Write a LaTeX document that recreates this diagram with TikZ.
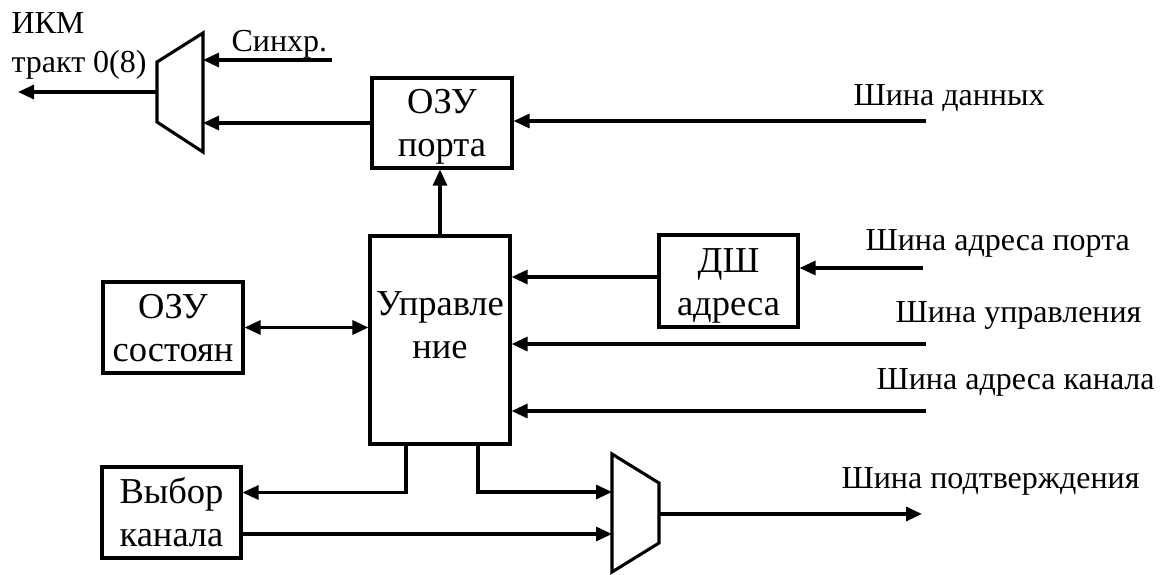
\documentclass[tikz,border=0pt]{standalone}
\usepackage{fontspec}
\setmainfont{Liberation Serif}
\usetikzlibrary{arrows.meta}
\newcommand\twoline[2]{\begin{tabular}[t]{@{}c@{}}#1\\#2\end{tabular}}
\begin{document}
\begin{tikzpicture}[x=1pt,y=-1pt,line width=3.1pt,
  blk/.style={draw,line width=3.1pt,inner sep=0pt,minimum width=140pt},
  btxt/.style={anchor=base,inner sep=0pt,font=\fontsize{36.5}{43}\selectfont},
  ltxt/.style={anchor=base west,inner sep=0pt,font=\fontsize{32}{39}\selectfont},
  arr/.style={-{Triangle[length=16pt,width=14pt]}},
  arrb/.style={{Triangle[length=16pt,width=14pt]}-{Triangle[length=16pt,width=14pt]}}]
\useasboundingbox (0,0) rectangle (1164,574);
% boxes
\node[blk,minimum height=90pt] (ozup) at (442,123) {};
\node[blk,minimum height=208pt] (ctl) at (440,340) {};
\node[blk,minimum height=91pt] (ozus) at (173,327.5) {};
\node[blk,minimum width=139pt,minimum height=92pt] (dsh) at (728.5,281) {};
\node[blk,minimum width=139pt,minimum height=91pt] (vyb) at (171.5,512.5) {};
% box texts
\node[btxt] (tozup) at (442,113) {\twoline{ОЗУ}{порта}};
\node[btxt] (tctl) at (440,315) {\twoline{Управле}{ние}};
\node[btxt] (tozus) at (173,318) {\twoline{ОЗУ}{состоян}};
\node[btxt] (tdsh) at (728.5,272) {\twoline{ДШ}{адреса}};
\node[btxt] (tvyb) at (171.5,503) {\twoline{Выбор}{канала}};
% multiplexers
\coordinate (m1a) at (157,62); \coordinate (m1b) at (203,33);
\coordinate (m1c) at (203,152); \coordinate (m1d) at (157,122);
\draw[line join=miter] (m1a) -- (m1b) -- (m1c) -- (m1d) -- cycle;
\coordinate (m2a) at (612,454); \coordinate (m2b) at (659,483);
\coordinate (m2c) at (659,543); \coordinate (m2d) at (612,572);
\draw[line join=miter] (m2a) -- (m2b) -- (m2c) -- (m2d) -- cycle;
% free ends
\coordinate (m1out) at (157,92); \coordinate (ikmend) at (18,92);
\coordinate (sync) at (332,60);
\coordinate (dbus) at (926,121);
\coordinate (pabus) at (923,268);
\coordinate (cbus) at (926,344);
\coordinate (cabus) at (926,411);
\coordinate (m2in1) at (612,492); \coordinate (m2in2) at (612,534);
\coordinate (m2out) at (659,514); \coordinate (ackend) at (922,514);
% connectors
\draw[arr] (m1out) -- (ikmend);
\draw[arr] (sync) -- (sync -| m1b);
\draw[arr] (ozup.west) -- (ozup.west -| m1b);
\draw[arr] (dbus) -- (dbus -| ozup.east);
\draw[arr] (ctl.north) -- (ctl.north |- ozup.south);
\draw[arrb] (ozus.east) -- (ozus.east -| ctl.west);
\draw[arr] ([yshift=4pt]dsh.west) -- ([yshift=4pt]dsh.west -| ctl.east);
\draw[arr] (pabus) -- (pabus -| dsh.east);
\draw[arr] (cbus) -- (cbus -| ctl.east);
\draw[arr] (cabus) -- (cabus -| ctl.east);
\draw[arr,line join=miter] ([xshift=-34pt]ctl.south) |- ([yshift=20pt]vyb.east);
\draw[arr,line join=miter] ([xshift=38pt]ctl.south) |- (m2in1);
\draw[arr] (vyb.east |- m2in2) -- (m2in2);
\draw[arr] (m2out) -- (ackend);
% labels
\node[ltxt] (likm) at (10,33) {\begin{tabular}[t]{@{}l@{}}ИКМ\\тракт 0(8)\end{tabular}};
\node[ltxt] (lsync) at (230,51) {Синхр.};
\node[ltxt] (ldata) at (852,105) {Шина данных};
\node[ltxt] (lpa) at (864,250) {Шина адреса порта};
\node[ltxt] (lctl) at (894,322) {Шина управления};
\node[ltxt] (lca) at (875,389) {Шина адреса канала};
\node[ltxt] (lack) at (840,488) {Шина подтверждения};
\end{tikzpicture}
\end{document}
